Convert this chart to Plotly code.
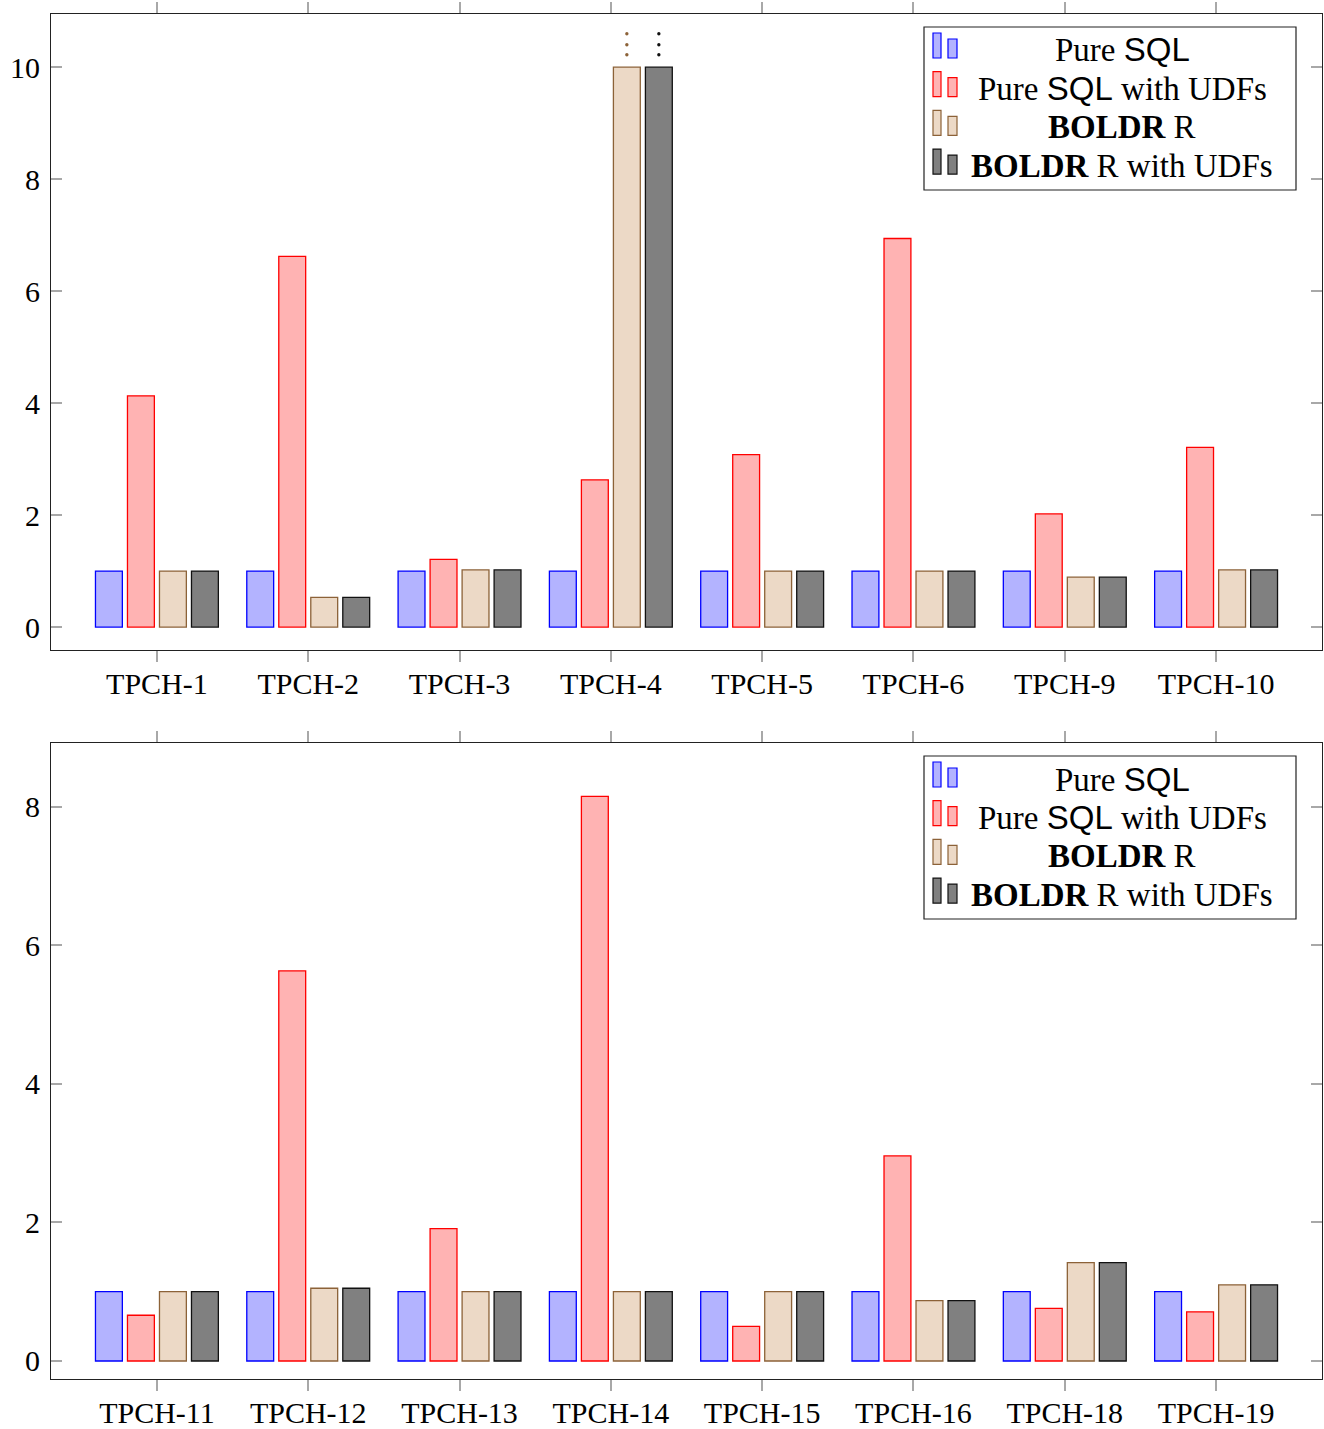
import plotly.graph_objects as go

# ---------------- data ----------------
cats_top = ["TPCH-1", "TPCH-2", "TPCH-3", "TPCH-4", "TPCH-5", "TPCH-6", "TPCH-9", "TPCH-10"]
pure_sql_top = [1, 1, 1, 1, 1, 1, 1, 1]
pure_sql_udf_top = [4.13, 6.62, 1.21, 2.63, 3.08, 6.94, 2.02, 3.21]
boldr_top = [1, 0.53, 1.02, 10, 1, 1, 0.89, 1.02]
boldr_udf_top = [1, 0.53, 1.02, 10, 1, 1, 0.89, 1.02]
clipped_top = ["TPCH-4"]  # values beyond the axis maximum (marked with dots)

cats_bot = ["TPCH-11", "TPCH-12", "TPCH-13", "TPCH-14", "TPCH-15", "TPCH-16", "TPCH-18", "TPCH-19"]
pure_sql_bot = [1, 1, 1, 1, 1, 1, 1, 1]
pure_sql_udf_bot = [0.66, 5.63, 1.91, 8.15, 0.5, 2.96, 0.76, 0.71]
boldr_bot = [1, 1.05, 1, 1, 1, 0.87, 1.42, 1.1]
boldr_udf_bot = [1, 1.05, 1, 1, 1, 0.87, 1.42, 1.1]

SQL = '<span style="font-family:Liberation Sans">SQL</span>'
series_names = [
    "Pure " + SQL,
    "Pure " + SQL + " with UDFs",
    "<b>BOLDR</b> R",
    "<b>BOLDR</b> R with UDFs",
]
fills = ["#b3b3ff", "#ffb3b3", "#ecd9c6", "#808080"]
lines = ["#0000ff", "#ff0000", "#8c6238", "#111111"]

# ---------------- layout constants ----------------
W, H = 1324, 1429
ML, MR, MT, MB = 51, 2, 14, 50
PW = W - ML - MR
PH_TOTAL = H - MT - MB
PANEL_H = 636
FONT = "Liberation Serif"
FS = 30
FS_LEG = 33
BARGAP = 0.154
GROUPGAP = 0.16
XR = [-0.70, 7.70]

fig = go.Figure()

panels = [
    (cats_top, [pure_sql_top, pure_sql_udf_top, boldr_top, boldr_udf_top], "x", "y"),
    (cats_bot, [pure_sql_bot, pure_sql_udf_bot, boldr_bot, boldr_udf_bot], "x2", "y2"),
]

for cats, series, xa, ya in panels:
    for name, vals, fc, lc in zip(series_names, series, fills, lines):
        fig.add_trace(go.Bar(
            x=cats, y=vals, name=name, xaxis=xa, yaxis=ya, showlegend=False,
            marker=dict(color=fc, line=dict(color=lc, width=1.3)),
        ))

axis_common = dict(
    showline=True, linecolor="#222222", linewidth=1.2, mirror="ticks",
    showgrid=False, zeroline=False, tickcolor="#a8a8a8", tickwidth=1.5, ticklen=11,
    tickfont=dict(family=FONT, size=FS, color="black"), automargin=False,
)

dom = PANEL_H / PH_TOTAL
fig.update_layout(
    width=W, height=H,
    margin=dict(l=ML, r=MR, t=MT, b=MB),
    paper_bgcolor="white", plot_bgcolor="white",
    barmode="group", bargap=BARGAP, bargroupgap=GROUPGAP,
    font=dict(family=FONT, size=FS, color="black"),
    xaxis=dict(type="category", range=XR, ticks="outside", anchor="y", domain=[0, 1],
               ticklabelstandoff=-4, **axis_common),
    yaxis=dict(range=[-0.41, 10.95], tickvals=[0, 2, 4, 6, 8, 10], ticks="inside",
               domain=[1 - dom, 1], anchor="x", ticklabelstandoff=4, **axis_common),
    xaxis2=dict(type="category", range=XR, ticks="outside", anchor="y2", domain=[0, 1],
                ticklabelstandoff=-4, **axis_common),
    yaxis2=dict(range=[-0.26, 8.92], tickvals=[0, 2, 4, 6, 8], ticks="inside",
                domain=[0, dom], anchor="x2", ticklabelstandoff=4, **axis_common),
)

shapes = []
annotations = []

# ---- clipped-value dots (vertical ellipsis above clipped bars) ----
px_per_cat = PW / (XR[1] - XR[0])
slot = (1 - BARGAP) / 4
for c in clipped_top:
    idx = cats_top.index(c)
    for k, (vals, lc) in enumerate(zip([boldr_top, boldr_udf_top], [lines[2], lines[3]])):
        off = (-(1 - BARGAP) / 2 + slot * (k + 2.5)) * px_per_cat
        for dy in (12.4, 22.4, 33.4):
            shapes.append(dict(
                type="circle", xref="x", yref="y",
                xsizemode="pixel", ysizemode="pixel",
                xanchor=idx, yanchor=vals[idx],
                x0=off - 1.7, x1=off + 1.7, y0=dy - 1.7, y1=dy + 1.7,
                fillcolor=lc, line=dict(width=0),
            ))

# ---- manual legend (centered text, two-bar swatches) ----
LEG_X, LEG_Y = 924 - ML, 27 - MT   # top-left of legend box relative to plot area (px)
LEG_W, LEG_H = 372, 163
ROW = 38.7


def dx(p):
    return (LEG_X + p) / PW


def dy_(p):
    return (PANEL_H - (LEG_Y + p)) / PANEL_H


for xa, ya in (("x", "y"), ("x2", "y2")):
    xr, yr = xa + " domain", ya + " domain"
    shapes.append(dict(type="rect", xref=xr, yref=yr, x0=dx(0), x1=dx(LEG_W),
                       y0=dy_(0), y1=dy_(LEG_H), line=dict(color="#222222", width=1.2),
                       fillcolor="white", layer="above"))
    for i, (name, fc, lc) in enumerate(zip(series_names, fills, lines)):
        base = 31 + i * ROW
        shapes.append(dict(type="rect", xref=xr, yref=yr, x0=dx(9), x1=dx(17),
                           y0=dy_(base), y1=dy_(base - 25), fillcolor=fc,
                           line=dict(color=lc, width=1.2), layer="above"))
        shapes.append(dict(type="rect", xref=xr, yref=yr, x0=dx(24), x1=dx(33),
                           y0=dy_(base), y1=dy_(base - 19), fillcolor=fc,
                           line=dict(color=lc, width=1.2), layer="above"))
        annotations.append(dict(text=name, xref=xr, yref=yr, x=dx(198), y=dy_(23 + i * ROW),
                                xanchor="center", yanchor="middle", showarrow=False,
                                font=dict(family=FONT, size=FS_LEG, color="black")))

fig.update_layout(shapes=shapes, annotations=annotations)
fig.write_html(
    "out.html",
    config={"displayModeBar": False},
    post_script="document.body.style.margin='0';document.body.style.overflow='hidden';",
)
